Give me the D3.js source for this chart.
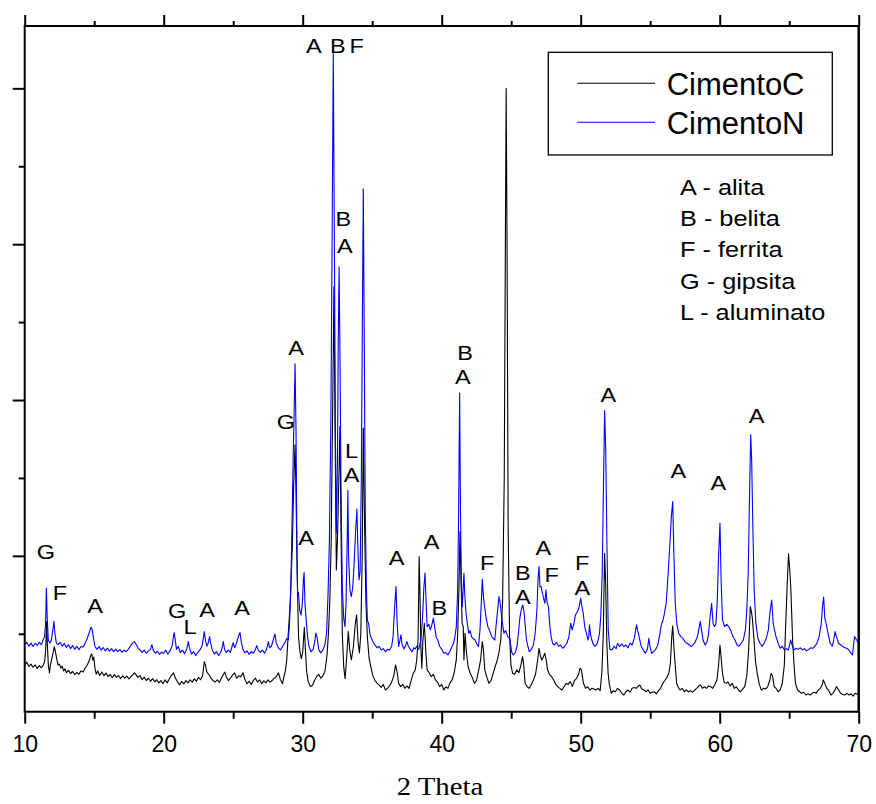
<!DOCTYPE html>
<html>
<head>
<meta charset="utf-8">
<script src="https://cdn.jsdelivr.net/npm/d3@7"></script>
<style>
  html, body { margin: 0; padding: 0; background: #fff; }
  svg { display: block; }
</style>
</head>
<body>
<svg id="chart" width="876" height="804"></svg>
<script>
// X-ray diffraction patterns: [2θ (degrees), intensity (counts)]
const cimentoC = [
  [10.0,300],[10.15,318],[10.3,290],[10.45,305],[10.6,285],[10.75,300],[10.9,278],[11.05,296],[11.2,282],[11.35,300],
  [11.45,330],[11.52,420],[11.58,578],[11.63,430],[11.7,300],[11.78,249],[11.85,300],[11.95,340],[12.05,380],[12.13,418],
  [12.2,390],[12.3,340],[12.4,300],[12.5,305],[12.6,280],[12.7,292],[12.8,262],[12.9,275],[13.0,250],[13.15,265],
  [13.3,245],[13.45,258],[13.6,238],[13.75,252],[13.9,240],[14.05,262],[14.2,255],[14.35,280],[14.5,300],[14.65,330],
  [14.75,360],[14.82,371],[14.9,330],[14.97,350],[15.05,280],[15.15,240],[15.25,262],[15.4,232],[15.55,255],[15.7,230],
  [15.85,248],[16.0,225],[16.15,240],[16.3,218],[16.45,238],[16.6,220],[16.75,232],[16.9,212],[17.05,230],[17.2,215],
  [17.35,228],[17.5,210],[17.65,225],[17.8,240],[17.9,250],[18.0,238],[18.15,220],[18.3,232],[18.45,205],[18.6,222],
  [18.75,200],[18.9,215],[19.05,195],[19.2,212],[19.35,192],[19.5,205],[19.65,185],[19.8,200],[19.95,180],[20.1,205],
  [20.25,185],[20.4,210],[20.55,232],[20.7,249],[20.85,215],[21.0,190],[21.15,172],[21.3,195],[21.45,178],[21.6,200],
  [21.75,185],[21.9,205],[22.05,190],[22.2,212],[22.35,195],[22.5,220],[22.65,205],[22.8,230],[22.92,321],[23.0,300],
  [23.1,255],[23.25,240],[23.4,215],[23.55,200],[23.7,190],[23.85,205],[24.0,188],[24.15,215],[24.3,240],[24.4,254],
  [24.5,225],[24.65,200],[24.8,215],[24.95,235],[25.1,249],[25.25,215],[25.4,230],[25.55,225],[25.7,250],[25.85,205],
  [26.0,180],[26.15,195],[26.3,175],[26.45,200],[26.6,215],[26.75,190],[26.9,205],[27.05,180],[27.2,198],[27.35,185],
  [27.5,205],[27.65,190],[27.8,200],[27.95,215],[28.1,225],[28.25,250],[28.4,205],[28.55,180],[28.65,225],[28.75,260],
  [28.85,330],[28.95,482],[29.1,700],[29.25,1050],[29.35,1450],[29.45,1713],[29.52,1400],[29.6,900],[29.7,480],[29.8,385],
  [29.9,340],[30.0,380],[30.07,480],[30.12,542],[30.18,420],[30.28,260],[30.4,193],[30.55,161],[30.7,170],[30.85,200],
  [31.0,225],[31.15,240],[31.3,215],[31.45,230],[31.6,260],[31.75,364],[31.85,500],[31.95,714],[32.05,1100],[32.15,1900],
  [32.25,2728],[32.33,1800],[32.42,910],[32.5,1100],[32.6,1500],[32.68,1830],[32.75,1200],[32.85,500],[32.95,289],[33.05,211],
  [33.15,330],[33.28,514],[33.38,400],[33.5,332],[33.65,420],[33.78,560],[33.88,621],[33.98,450],[34.08,377],[34.18,500],
  [34.28,1000],[34.36,1820],[34.45,1200],[34.55,700],[34.65,482],[34.78,340],[34.9,289],[35.05,230],[35.2,200],[35.35,184],
  [35.5,170],[35.65,156],[35.8,175],[35.95,139],[36.1,150],[36.25,165],[36.4,190],[36.55,230],[36.68,300],[36.8,250],
  [36.9,182],[37.05,161],[37.2,175],[37.35,150],[37.5,165],[37.65,150],[37.8,200],[37.95,246],[38.1,268],[38.2,330],
  [38.3,460],[38.38,996],[38.45,700],[38.5,418],[38.57,279],[38.65,460],[38.75,568],[38.85,396],[38.95,268],[39.1,250],
  [39.25,225],[39.4,240],[39.55,204],[39.7,190],[39.85,161],[40.0,175],[40.15,139],[40.3,160],[40.45,150],[40.6,185],
  [40.75,204],[40.9,250],[41.05,332],[41.15,500],[41.24,800],[41.32,1156],[41.4,800],[41.47,568],[41.55,546],[41.6,332],
  [41.68,503],[41.78,380],[41.9,290],[42.05,246],[42.2,220],[42.35,182],[42.5,200],[42.65,260],[42.8,332],[42.92,450],
  [43.0,400],[43.1,268],[43.25,220],[43.4,182],[43.55,200],[43.7,246],[43.85,290],[44.0,332],[44.12,380],[44.25,460],
  [44.38,700],[44.5,1500],[44.58,3000],[44.64,4000],[44.7,3000],[44.78,1200],[44.88,500],[44.98,300],[45.1,246],[45.25,240],
  [45.4,268],[45.55,250],[45.7,300],[45.82,353],[45.9,300],[46.0,182],[46.15,160],[46.3,150],[46.45,175],[46.6,204],
  [46.75,240],[46.9,330],[47.0,407],[47.1,360],[47.2,332],[47.3,350],[47.42,375],[47.52,330],[47.62,268],[47.75,240],
  [47.9,225],[48.05,205],[48.2,175],[48.35,161],[48.5,150],[48.65,139],[48.8,160],[48.95,182],[49.1,175],[49.25,193],
  [49.4,161],[49.55,200],[49.7,214],[49.85,240],[49.95,279],[50.05,268],[50.2,182],[50.35,150],[50.5,160],[50.65,139],
  [50.8,150],[50.95,145],[51.1,139],[51.25,150],[51.4,135],[51.52,250],[51.62,482],[51.72,1017],[51.8,803],[51.88,439],
  [51.97,250],[52.05,182],[52.2,118],[52.35,135],[52.5,128],[52.65,150],[52.8,139],[52.95,118],[53.1,107],[53.25,128],
  [53.4,139],[53.55,125],[53.7,150],[53.85,155],[54.0,150],[54.15,165],[54.25,171],[54.4,145],[54.55,139],[54.7,128],
  [54.85,140],[55.0,118],[55.15,125],[55.3,128],[55.45,115],[55.6,135],[55.75,150],[55.9,182],[56.05,200],[56.2,220],
  [56.35,250],[56.45,311],[56.55,480],[56.62,550],[56.7,418],[56.8,300],[56.9,182],[57.0,160],[57.15,139],[57.3,150],
  [57.45,128],[57.6,140],[57.75,128],[57.9,135],[58.05,125],[58.2,139],[58.35,150],[58.5,165],[58.62,171],[58.75,150],
  [58.9,160],[59.05,150],[59.2,165],[59.35,161],[59.5,150],[59.65,175],[59.8,204],[59.92,300],[60.02,428],[60.1,350],
  [60.2,246],[60.32,190],[60.45,182],[60.6,190],[60.75,165],[60.9,182],[61.05,150],[61.2,160],[61.35,139],[61.5,128],
  [61.65,145],[61.8,161],[61.95,230],[62.08,396],[62.2,674],[62.28,642],[62.35,600],[62.45,482],[62.58,320],[62.7,246],
  [62.85,175],[63.0,139],[63.15,150],[63.3,145],[63.45,160],[63.6,200],[63.7,246],[63.8,230],[63.92,161],[64.05,150],
  [64.2,128],[64.35,140],[64.5,182],[64.65,300],[64.75,568],[64.85,800],[64.95,1013],[65.05,900],[65.12,782],[65.25,450],
  [65.35,300],[65.45,182],[65.6,139],[65.75,128],[65.9,118],[66.05,125],[66.2,107],[66.35,115],[66.5,107],[66.65,118],
  [66.8,125],[66.95,118],[67.1,140],[67.25,150],[67.38,175],[67.45,204],[67.55,185],[67.7,150],[67.85,135],[68.0,107],
  [68.15,118],[68.3,140],[68.4,161],[68.55,140],[68.7,118],[68.85,110],[69.0,107],[69.15,118],[69.3,107],[69.45,115],
  [69.6,100],[69.75,118],[69.9,112],[70.0,118]
];

const cimentoN = [
  [10.0,428],[10.15,445],[10.3,420],[10.45,440],[10.6,418],[10.75,438],[10.9,425],[11.05,445],[11.2,430],[11.3,455],
  [11.42,480],[11.5,560],[11.56,793],[11.62,600],[11.7,460],[11.8,440],[11.92,460],[12.02,520],[12.1,578],[12.18,500],
  [12.28,440],[12.4,430],[12.55,445],[12.7,420],[12.85,438],[13.0,412],[13.15,430],[13.3,405],[13.45,425],[13.6,400],
  [13.75,420],[13.9,398],[14.05,418],[14.2,415],[14.35,440],[14.5,470],[14.65,510],[14.77,542],[14.85,530],[14.95,470],
  [15.05,420],[15.2,400],[15.35,418],[15.5,395],[15.65,412],[15.8,390],[15.95,408],[16.1,388],[16.25,405],[16.4,385],
  [16.55,402],[16.7,385],[16.85,398],[17.0,380],[17.15,395],[17.3,385],[17.45,400],[17.6,420],[17.75,440],[17.9,450],
  [18.0,435],[18.15,410],[18.3,395],[18.45,380],[18.6,395],[18.75,375],[18.9,390],[19.05,400],[19.15,430],[19.25,395],
  [19.4,375],[19.55,388],[19.7,368],[19.85,382],[20.0,375],[20.15,395],[20.3,370],[20.45,390],[20.6,420],[20.7,480],
  [20.75,507],[20.82,470],[20.92,400],[21.05,420],[21.2,380],[21.35,395],[21.5,372],[21.65,400],[21.77,450],[21.85,410],
  [22.0,370],[22.15,385],[22.3,360],[22.45,380],[22.6,395],[22.75,420],[22.85,470],[22.92,514],[23.0,460],[23.1,420],
  [23.2,440],[23.3,482],[23.38,440],[23.5,395],[23.65,370],[23.8,385],[23.95,360],[24.1,380],[24.2,410],[24.29,450],
  [24.38,400],[24.5,380],[24.65,395],[24.8,380],[24.92,420],[25.0,443],[25.1,410],[25.2,430],[25.3,460],[25.4,490],
  [25.49,507],[25.58,450],[25.7,400],[25.85,378],[26.0,390],[26.15,368],[26.3,385],[26.45,375],[26.6,400],[26.69,424],
  [26.8,395],[26.95,380],[27.1,395],[27.25,375],[27.4,400],[27.53,450],[27.62,410],[27.75,420],[27.88,460],[28.0,499],
  [28.1,440],[28.25,410],[28.4,396],[28.55,420],[28.7,440],[28.85,470],[28.96,460],[29.05,560],[29.15,800],[29.25,1300],
  [29.33,1700],[29.38,1900],[29.45,2233],[29.52,1800],[29.58,1100],[29.63,771],[29.7,760],[29.78,653],[29.88,620],[29.98,700],
  [30.05,850],[30.1,893],[30.16,700],[30.25,589],[30.35,480],[30.45,420],[30.6,385],[30.75,400],[30.85,440],[30.95,505],
  [31.05,470],[31.15,400],[31.3,377],[31.45,395],[31.6,430],[31.72,505],[31.82,746],[31.92,1100],[32.02,1800],[32.1,2800],
  [32.2,4229],[32.28,3000],[32.36,1700],[32.42,1150],[32.5,1600],[32.56,2400],[32.62,2854],[32.68,2300],[32.76,1400],[32.85,800],
  [32.95,600],[33.04,546],[33.12,700],[33.2,1100],[33.25,1420],[33.3,1000],[33.4,780],[33.5,739],[33.6,800],[33.7,950],
  [33.8,1150],[33.9,1300],[33.97,1050],[34.05,846],[34.13,900],[34.22,1500],[34.3,2600],[34.36,3355],[34.42,2500],[34.5,1300],
  [34.58,800],[34.65,589],[34.75,560],[34.85,493],[34.95,470],[35.1,440],[35.2,428],[35.35,410],[35.5,420],[35.65,396],
  [35.8,405],[35.95,385],[36.1,400],[36.25,396],[36.4,420],[36.5,480],[36.6,650],[36.71,803],[36.8,560],[36.9,418],
  [37.0,460],[37.07,493],[37.15,430],[37.3,403],[37.42,430],[37.5,450],[37.6,420],[37.75,400],[37.86,385],[38.0,410],
  [38.1,403],[38.2,420],[38.35,400],[38.5,460],[38.62,600],[38.72,800],[38.8,889],[38.88,700],[38.95,546],[39.08,560],
  [39.18,525],[39.3,560],[39.4,600],[39.5,540],[39.6,480],[39.72,460],[39.85,420],[40.0,400],[40.15,375],[40.3,380],
  [40.45,364],[40.6,390],[40.75,420],[40.85,439],[40.95,480],[41.05,546],[41.15,782],[41.22,1300],[41.29,2045],[41.35,1317],
  [41.42,800],[41.48,674],[41.55,800],[41.6,889],[41.66,750],[41.75,632],[41.85,560],[41.95,503],[42.05,520],[42.15,482],
  [42.25,470],[42.4,460],[42.55,430],[42.65,418],[42.75,520],[42.85,700],[42.92,850],[43.0,740],[43.08,674],[43.2,600],
  [43.32,546],[43.45,520],[43.6,482],[43.72,470],[43.82,460],[43.92,560],[44.02,650],[44.12,739],[44.2,700],[44.28,632],
  [44.38,560],[44.48,503],[44.6,520],[44.75,482],[44.9,470],[45.04,380],[45.15,364],[45.3,380],[45.42,420],[45.52,503],
  [45.62,600],[45.72,653],[45.83,685],[45.92,640],[46.0,560],[46.1,460],[46.2,420],[46.3,385],[46.45,400],[46.6,428],
  [46.72,500],[46.85,650],[46.93,850],[47.0,931],[47.07,800],[47.15,803],[47.25,760],[47.35,720],[47.42,696],[47.5,782],
  [47.58,700],[47.68,674],[47.78,546],[47.88,480],[47.98,439],[48.1,428],[48.25,445],[48.4,420],[48.55,428],[48.7,407],
  [48.85,420],[49.0,439],[49.15,480],[49.28,568],[49.38,525],[49.5,560],[49.62,621],[49.75,640],[49.85,660],[49.95,700],
  [50.0,728],[50.08,680],[50.18,632],[50.3,540],[50.42,503],[50.52,460],[50.58,480],[50.63,557],[50.7,500],[50.8,460],
  [50.92,428],[51.05,420],[51.2,440],[51.35,500],[51.45,620],[51.55,900],[51.63,1400],[51.72,1933],[51.8,1681],[51.88,1124],
  [51.98,525],[52.1,400],[52.25,396],[52.4,420],[52.55,405],[52.65,439],[52.8,418],[52.95,435],[53.1,418],[53.25,428],
  [53.4,410],[53.55,440],[53.7,428],[53.85,470],[53.95,520],[54.02,557],[54.1,520],[54.2,482],[54.35,420],[54.5,396],
  [54.65,375],[54.8,400],[54.9,471],[54.98,420],[55.1,375],[55.25,385],[55.4,400],[55.55,430],[55.7,503],[55.8,557],
  [55.9,580],[56.0,620],[56.15,696],[56.3,900],[56.42,1082],[56.52,1250],[56.62,1349],[56.7,1028],[56.8,696],[56.92,560],
  [57.05,503],[57.2,482],[57.35,470],[57.5,450],[57.65,439],[57.8,430],[57.95,418],[58.1,430],[58.25,450],[58.4,482],
  [58.5,530],[58.6,578],[58.7,520],[58.8,460],[58.95,428],[59.1,450],[59.2,500],[59.3,600],[59.42,696],[59.52,568],
  [59.62,546],[59.72,560],[59.82,700],[59.92,1000],[60.02,1210],[60.1,846],[60.2,589],[60.35,546],[60.5,560],[60.65,546],
  [60.8,520],[60.95,482],[61.1,460],[61.25,428],[61.4,420],[61.55,439],[61.7,460],[61.85,525],[61.95,650],[62.05,889],
  [62.15,1400],[62.23,1777],[62.3,1617],[62.38,1210],[62.48,782],[62.6,568],[62.75,470],[62.9,439],[63.05,418],[63.2,440],
  [63.35,470],[63.5,525],[63.62,640],[63.74,717],[63.85,568],[63.95,520],[64.05,482],[64.2,440],[64.35,407],[64.5,420],
  [64.65,396],[64.8,405],[64.95,396],[65.1,460],[65.2,430],[65.35,396],[65.5,407],[65.65,400],[65.8,410],[65.95,396],
  [66.1,405],[66.25,390],[66.4,400],[66.55,410],[66.7,407],[66.85,420],[67.0,440],[67.15,482],[67.3,560],[67.4,680],
  [67.48,735],[67.56,600],[67.65,568],[67.8,500],[67.95,439],[68.1,420],[68.2,460],[68.3,514],[68.4,480],[68.55,439],
  [68.7,430],[68.85,418],[69.0,410],[69.15,407],[69.3,395],[69.45,375],[69.55,364],[69.7,482],[69.85,460],[69.98,439],
  [70.0,200]
];

// Axis ticks
const xMajorTicks = [10, 20, 30, 40, 50, 60, 70];
const xMinorTicks = [15, 25, 35, 45, 55, 65];
const yMajorTicks = [1000, 2000, 3000, 4000];
const yMinorTicks = [500, 1500, 2500, 3500];

// Series legend
const seriesNames = ["CimentoC", "CimentoN"];
const seriesColors = ["#000000", "#0000ff"];

// Phase key
const phaseKey = ["A - alita", "B - belita", "F - ferrita", "G - gipsita", "L - aluminato"];

// Phase identifications: [letter, 2θ, intensity]
const peakLabels = [
  ["G", 11.53, 1026], ["F", 12.54, 762], ["A", 15.06, 679], ["G", 20.96, 647], ["L", 21.89, 544],
  ["A", 23.12, 653], ["A", 25.64, 666], ["G", 28.80, 1861], ["A", 29.52, 2336], ["A", 30.24, 1116],
  ["A", 30.81, 4271], ["B", 32.52, 4271], ["F", 33.88, 4271], ["B", 32.92, 3165], ["A", 33.04, 2987],
  ["L", 33.52, 1676], ["A", 33.52, 1520], ["A", 36.76, 985], ["A", 39.28, 1092], ["B", 39.83, 664],
  ["B", 41.68, 2304], ["A", 41.53, 2150], ["F", 43.28, 953], ["B", 45.83, 889], ["A", 45.83, 739],
  ["A", 47.31, 1050], ["F", 47.91, 878], ["F", 50.11, 953], ["A", 50.11, 793], ["A", 51.99, 2034],
  ["A", 57.02, 1542], ["A", 59.90, 1467], ["A", 62.66, 1895]
];

const svg = d3.select("#chart");
const plotLeft = 24.7, plotRight = 858.7, plotTop = 26, plotBottom = 711.7;

const x = d3.scaleLinear().domain([10, 70]).range([plotLeft, plotRight]);
const y = d3.scaleLinear().domain([0, 4400]).range([plotBottom, plotTop]);

svg.append("defs").append("clipPath").attr("id", "plotClip")
  .append("rect").attr("x", plotLeft).attr("y", plotTop)
  .attr("width", plotRight - plotLeft).attr("height", plotBottom - plotTop);

// Traces
const line = d3.line().x(d => x(d[0])).y(d => y(d[1]));
const traces = svg.append("g").attr("clip-path", "url(#plotClip)");
[cimentoC, cimentoN].forEach((series, i) => {
  traces.append("path")
    .datum(series)
    .attr("fill", "none")
    .attr("stroke", seriesColors[i])
    .attr("stroke-width", 1.1)
    .attr("stroke-linejoin", "round")
    .attr("d", line);
});

// Axes
const axisFont = "'Liberation Sans', Arial, sans-serif";
function styleAxis(g) {
  g.select(".domain").remove();
  g.selectAll(".tick line").attr("stroke", "#000").attr("stroke-width", 2);
  g.selectAll(".tick text").attr("fill", "#000").attr("font-family", axisFont).attr("font-size", 23);
}

svg.append("g").attr("transform", `translate(0,${plotBottom})`)
  .call(d3.axisBottom(x).tickValues(xMajorTicks).tickSize(12).tickPadding(12).tickFormat(d3.format("d")))
  .call(styleAxis);
svg.append("g").attr("transform", `translate(0,${plotBottom})`)
  .call(d3.axisBottom(x).tickValues(xMinorTicks).tickSize(7).tickFormat(""))
  .call(styleAxis);
svg.append("g").attr("transform", `translate(0,${plotTop})`)
  .call(d3.axisTop(x).tickValues(xMajorTicks).tickSize(11).tickFormat(""))
  .call(styleAxis);
svg.append("g").attr("transform", `translate(0,${plotTop})`)
  .call(d3.axisTop(x).tickValues(xMinorTicks).tickSize(5).tickFormat(""))
  .call(styleAxis);
svg.append("g").attr("transform", `translate(${plotLeft},0)`)
  .call(d3.axisLeft(y).tickValues(yMajorTicks).tickSize(12).tickFormat(""))
  .call(styleAxis);
svg.append("g").attr("transform", `translate(${plotLeft},0)`)
  .call(d3.axisLeft(y).tickValues(yMinorTicks).tickSize(6).tickFormat(""))
  .call(styleAxis);

// Frame
const frame = svg.append("g").attr("stroke", "#000").attr("fill", "none");
frame.append("line").attr("x1", plotLeft).attr("x2", plotRight).attr("y1", plotTop).attr("y2", plotTop).attr("stroke-width", 2);
frame.append("line").attr("x1", plotLeft).attr("x2", plotRight).attr("y1", plotBottom).attr("y2", plotBottom).attr("stroke-width", 2);
frame.append("line").attr("x1", plotLeft).attr("x2", plotLeft).attr("y1", plotTop - 1).attr("y2", plotBottom + 1).attr("stroke-width", 2);
frame.append("line").attr("x1", plotRight).attr("x2", plotRight).attr("y1", plotTop - 1).attr("y2", plotBottom + 1).attr("stroke-width", 2.5);

// X axis title
svg.append("text")
  .attr("transform", "translate(440,795) scale(1.15,1)")
  .attr("text-anchor", "middle")
  .attr("font-family", "'Liberation Serif', 'Times New Roman', serif")
  .attr("font-size", 25)
  .attr("fill", "#000")
  .text("2 Theta");

// Peak identification letters
svg.append("g").selectAll("text").data(peakLabels).join("text")
  .attr("transform", d => `translate(${x(d[1])},${y(d[2])}) scale(1.12,1)`)
  .attr("text-anchor", "middle")
  .attr("dominant-baseline", "central")
  .attr("font-family", axisFont)
  .attr("font-size", 21)
  .attr("fill", "#000")
  .text(d => d[0]);

// Series legend
const legend = svg.append("g");
legend.append("rect")
  .attr("x", 548.3).attr("y", 52.3).attr("width", 284).attr("height", 102.7)
  .attr("fill", "#fff").attr("stroke", "#000").attr("stroke-width", 1.3);
seriesNames.forEach((name, i) => {
  const cy = 83.3 + i * 39;
  legend.append("line")
    .attr("x1", 577.3).attr("x2", 655).attr("y1", cy).attr("y2", cy)
    .attr("stroke", seriesColors[i]).attr("stroke-width", 1.1);
  legend.append("text")
    .attr("x", 666.7).attr("y", cy + 11.5)
    .attr("font-family", axisFont).attr("font-size", 31).attr("fill", "#000")
    .text(name);
});

// Phase key
svg.append("g").selectAll("text").data(phaseKey).join("text")
  .attr("transform", (d, i) => `translate(680,${195 + i * 31.2}) scale(1.15,1)`)
  .attr("font-family", axisFont)
  .attr("font-size", 22)
  .attr("fill", "#000")
  .text(d => d);
</script>
</body>
</html>
